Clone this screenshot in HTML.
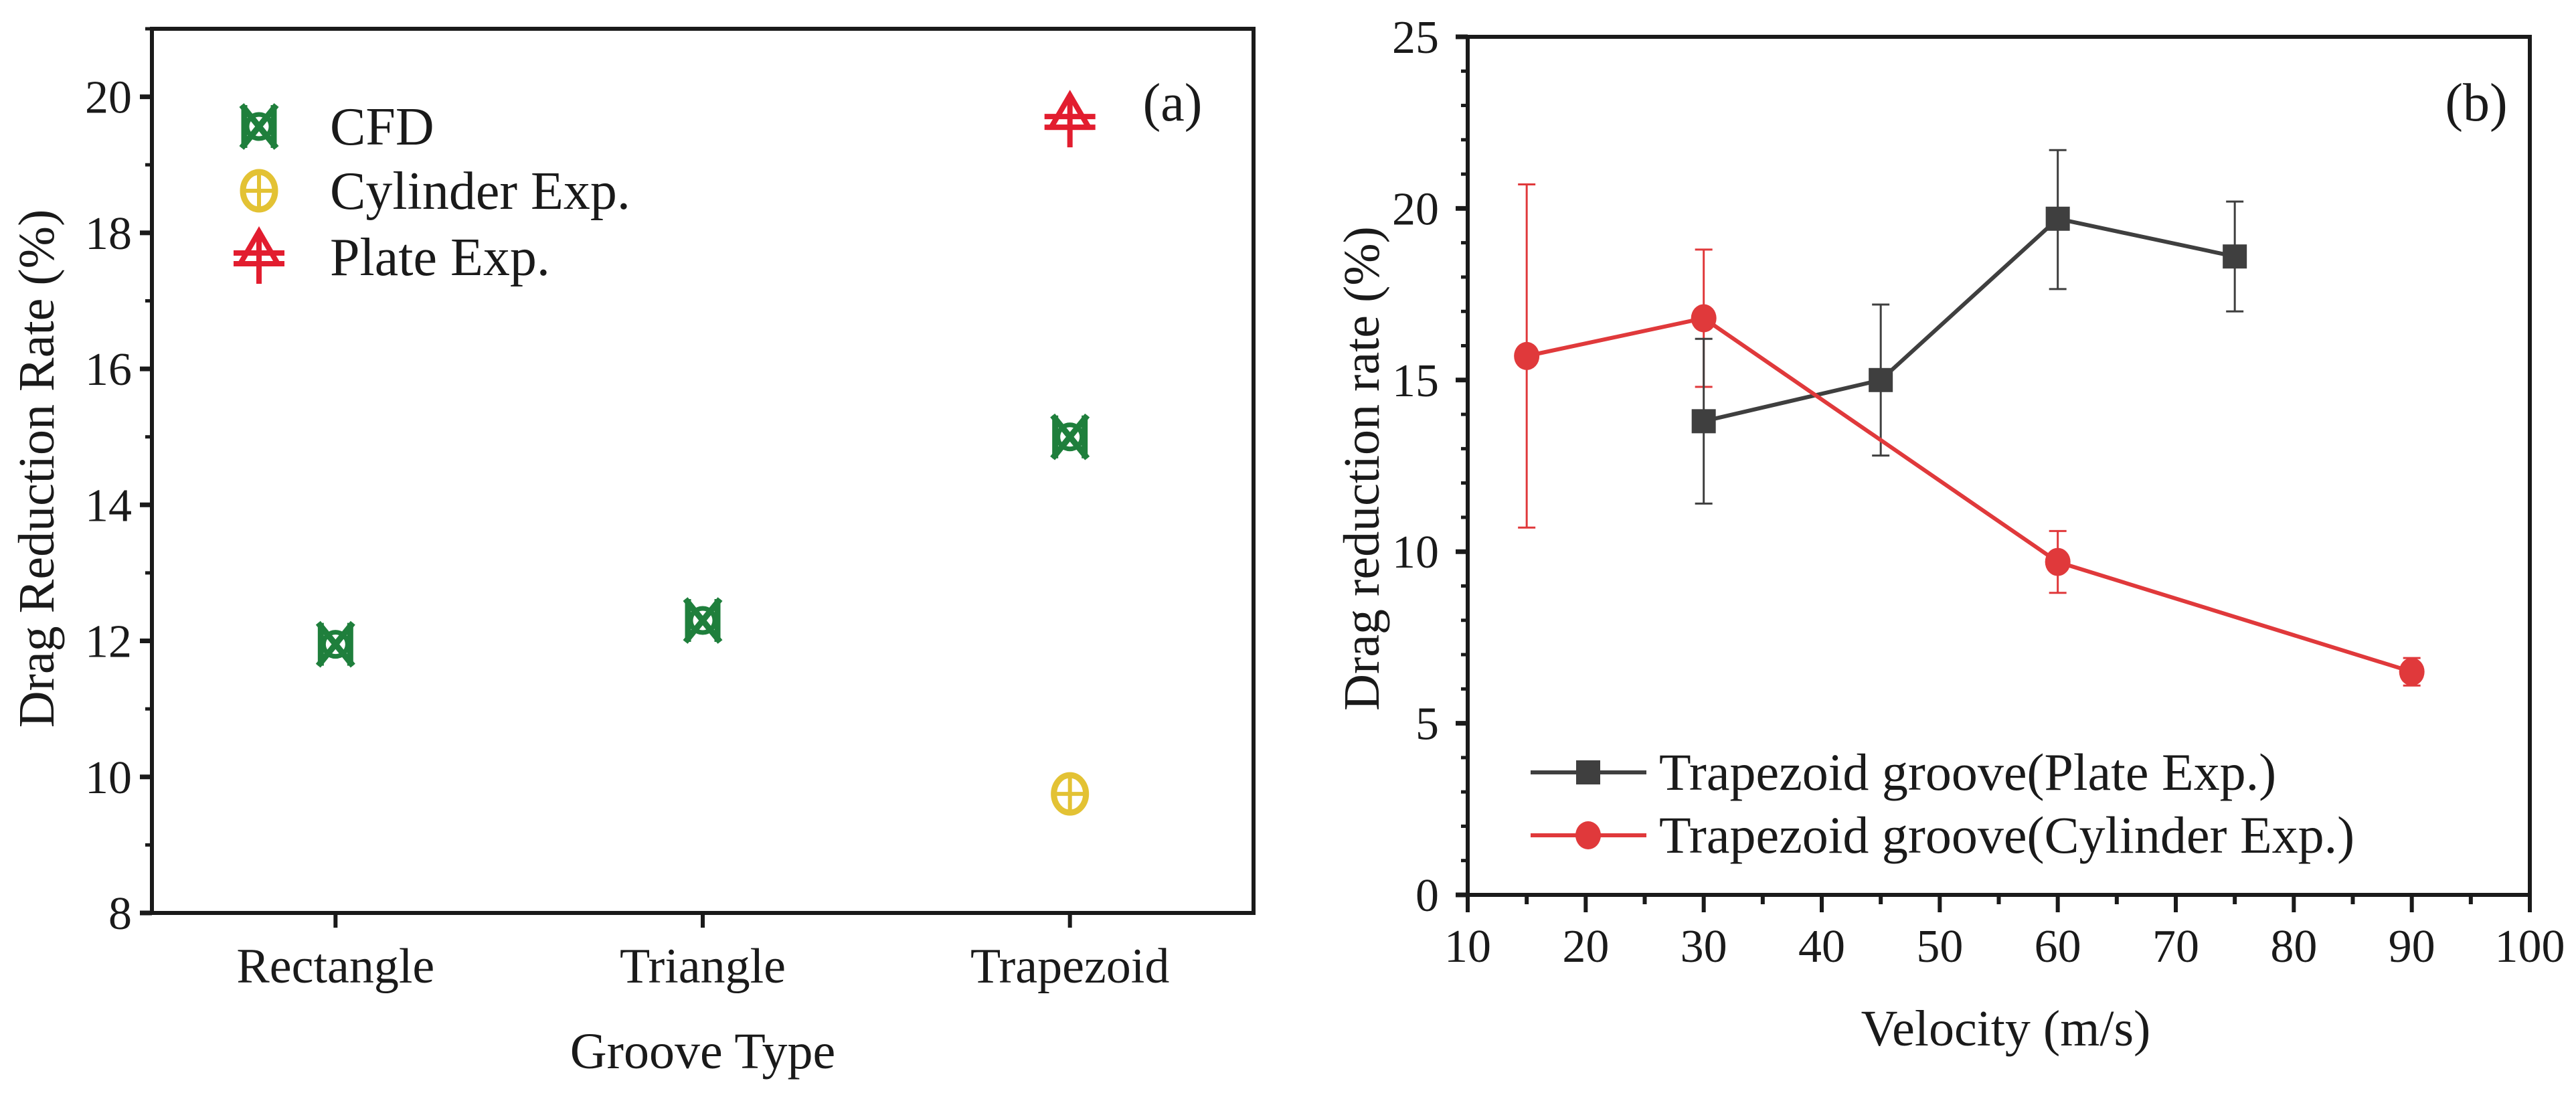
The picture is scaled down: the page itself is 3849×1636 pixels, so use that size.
<!DOCTYPE html>
<html><head><meta charset="utf-8"><style>
html,body{margin:0;padding:0;background:#fff;}
svg{display:block;font-family:"Liberation Serif",serif;}
</style></head><body>
<svg id="fig" width="3849" height="1636" viewBox="0 0 3849 1636" xmlns="http://www.w3.org/2000/svg">
<g id="pa"></g>
<g id="pb"></g>
</svg>
<script>
// Panel (a) data
const catLabels = ["Rectangle","Triangle","Trapezoid"];
const cfdVals = [11.95, 12.3, 15.0];
const cylVals = [null, null, 9.75];
const plateVals = [null, null, 19.65];
const aYTicks = [8,10,12,14,16,18,20];
// Panel (b) data
const plateX = [30,45,60,75];
const plateY = [13.8,15.0,19.7,18.6];
const plateLo = [11.4,12.8,17.65,17.0];
const plateHi = [16.2,17.2,21.7,20.2];
const cylX = [15,30,60,90];
const cylY = [15.7,16.8,9.7,6.5];
const cylLo = [10.7,14.8,8.8,6.1];
const cylHi = [20.7,18.8,10.6,6.9];
const bXTicks = [10,20,30,40,50,60,70,80,90,100];
const bYTicks = [0,5,10,15,20,25];

const NS="http://www.w3.org/2000/svg";
function mk(parent,tag,attrs,text){const e=document.createElementNS(NS,tag);for(const k in attrs)e.setAttribute(k,attrs[k]);if(text!==undefined)e.textContent=text;parent.appendChild(e);return e;}

const GREEN="#1f7f3c", YEL="#e3c234", RED="#e21d2f", GRAY="#3f3f3f", CRED="#e0393b";

// ---------- Panel A ----------
const pa=document.getElementById('pa');
const aL=227,aR=1873,aT=43,aB=1364;
const ay=v=>aB-(v-8)/(21-8)*(aB-aT);
const ax=i=>aL+(i+0.5)/3*(aR-aL);

function cfdMarker(g,cx,cy){
  const w=26,h=32,sw=9;
  mk(g,'line',{x1:cx-w,y1:cy-h,x2:cx+w,y2:cy+h,stroke:GREEN,'stroke-width':sw});
  mk(g,'line',{x1:cx+w,y1:cy-h,x2:cx-w,y2:cy+h,stroke:GREEN,'stroke-width':sw});
  mk(g,'line',{x1:cx-w+4,y1:cy-h,x2:cx-w+4,y2:cy+h,stroke:GREEN,'stroke-width':sw});
  mk(g,'line',{x1:cx+w-4,y1:cy-h,x2:cx+w-4,y2:cy+h,stroke:GREEN,'stroke-width':sw});
  mk(g,'circle',{cx:cx,cy:cy,r:18,fill:'none',stroke:GREEN,'stroke-width':7});
}
function cylMarker(g,cx,cy){
  mk(g,'ellipse',{cx:cx,cy:cy,rx:24,ry:28,fill:'none',stroke:YEL,'stroke-width':9});
  mk(g,'line',{x1:cx-24,y1:cy,x2:cx+24,y2:cy,stroke:YEL,'stroke-width':6});
  mk(g,'line',{x1:cx,y1:cy-28,x2:cx,y2:cy+28,stroke:YEL,'stroke-width':6});
}
function plateMarker(g,cx,cy){
  mk(g,'polygon',{points:`${cx},${cy-38} ${cx-28},${cy+10} ${cx+28},${cy+10}`,fill:'none',stroke:RED,'stroke-width':8,'stroke-linejoin':'miter'});
  mk(g,'line',{x1:cx-38,y1:cy-6,x2:cx+38,y2:cy-6,stroke:RED,'stroke-width':8});
  mk(g,'line',{x1:cx-38,y1:cy+10,x2:cx+38,y2:cy+10,stroke:RED,'stroke-width':8});
  mk(g,'line',{x1:cx,y1:cy-30,x2:cx,y2:cy+40,stroke:RED,'stroke-width':8});
}

// frame
let fr=mk(pa,'rect',{x:aL,y:aT,width:aR-aL,height:aB-aT,fill:'none',stroke:'#1a1a1a','stroke-width':6});

for(let v=8;v<=21;v++){
  const major=aYTicks.includes(v);
  mk(pa,'line',{x1:aL-(major?18:10),y1:ay(v),x2:aL,y2:ay(v),stroke:'#1a1a1a','stroke-width':major?7:5});
}
aYTicks.forEach(v=>{
  const t=mk(pa,'text',{x:197,y:ay(v)+24,'font-size':70,'text-anchor':'end',fill:'#1a1a1a'},String(v));
  
});
catLabels.forEach((c,i)=>{
  mk(pa,'line',{x1:ax(i),y1:aB,x2:ax(i),y2:aB+22,stroke:'#1a1a1a','stroke-width':6});
  const t=mk(pa,'text',{x:ax(i),y:1468,'font-size':74,'text-anchor':'middle',fill:'#1a1a1a'},c);
  
});
let t=mk(pa,'text',{x:1050,y:1596,'font-size':76,'text-anchor':'middle',fill:'#1a1a1a'},'Groove Type');

t=mk(pa,'text',{x:0,y:0,'font-size':76,'text-anchor':'middle',fill:'#1a1a1a',transform:'translate(80,700) rotate(-90)'},'Drag Reduction Rate (%)');

t=mk(pa,'text',{x:1752,y:180,'font-size':80,'text-anchor':'middle',fill:'#1a1a1a'},'(a)');


cfdVals.forEach((v,i)=>{if(v===null)return;const g=mk(pa,'g',{});
cfdMarker(g,ax(i),ay(v));});
cylVals.forEach((v,i)=>{if(v===null)return;const g=mk(pa,'g',{});
cylMarker(g,ax(i),ay(v));});
plateVals.forEach((v,i)=>{if(v===null)return;const g=mk(pa,'g',{});
plateMarker(g,ax(i),ay(v));});

// legend a
const legA=[["CFD",cfdMarker,189],["Cylinder Exp.",cylMarker,285],["Plate Exp.",plateMarker,384]];
legA.forEach(([lab,fn,yy])=>{const g=mk(pa,'g',{});

fn(g,387,yy);mk(g,'text',{x:493,y:yy+27,'font-size':80,fill:'#1a1a1a'},lab);});

// ---------- Panel B ----------
const pb=document.getElementById('pb');
const bL=2193,bR=3780,bT=55,bB=1337;
const bx=v=>bL+(v-10)/90*(bR-bL);
const by=v=>bB-v/25*(bB-bT);
fr=mk(pb,'rect',{x:bL,y:bT,width:bR-bL,height:bB-bT,fill:'none',stroke:'#1a1a1a','stroke-width':6});

for(let v=0;v<=25;v++){const major=v%5===0;
  mk(pb,'line',{x1:bL-(major?18:10),y1:by(v),x2:bL,y2:by(v),stroke:'#1a1a1a','stroke-width':major?7:5});}
for(let v=10;v<=100;v+=5){const major=v%10===0;
  mk(pb,'line',{x1:bx(v),y1:bB,x2:bx(v),y2:bB+(major?26:14),stroke:'#1a1a1a','stroke-width':6});}
bYTicks.forEach(v=>{const tt=mk(pb,'text',{x:2150,y:by(v)+24,'font-size':70,'text-anchor':'end',fill:'#1a1a1a'},String(v));
});
bXTicks.forEach(v=>{const tt=mk(pb,'text',{x:bx(v),y:1437,'font-size':70,'text-anchor':'middle',fill:'#1a1a1a'},String(v));
});
t=mk(pb,'text',{x:2997,y:1562,'font-size':76,'text-anchor':'middle',fill:'#1a1a1a'},'Velocity (m/s)');

t=mk(pb,'text',{x:0,y:0,'font-size':76,'text-anchor':'middle',fill:'#1a1a1a',transform:'translate(2060,700) rotate(-90)'},'Drag reduction rate (%)');

t=mk(pb,'text',{x:3700,y:180,'font-size':80,'text-anchor':'middle',fill:'#1a1a1a'},'(b)');


function errbars(xs,lo,hi,col,name){xs.forEach((x,i)=>{const g=mk(pb,'g',{});

mk(g,'line',{x1:bx(x),y1:by(lo[i]),x2:bx(x),y2:by(hi[i]),stroke:col,'stroke-width':3});
mk(g,'line',{x1:bx(x)-13,y1:by(lo[i]),x2:bx(x)+13,y2:by(lo[i]),stroke:col,'stroke-width':3});
mk(g,'line',{x1:bx(x)-13,y1:by(hi[i]),x2:bx(x)+13,y2:by(hi[i]),stroke:col,'stroke-width':3});});}
errbars(cylX,cylLo,cylHi,CRED,'cylinder-error-bar');
errbars(plateX,plateLo,plateHi,GRAY,'plate-error-bar');
let ln=mk(pb,'polyline',{points:plateX.map((x,i)=>bx(x)+','+by(plateY[i])).join(' '),fill:'none',stroke:GRAY,'stroke-width':6});

ln=mk(pb,'polyline',{points:cylX.map((x,i)=>bx(x)+','+by(cylY[i])).join(' '),fill:'none',stroke:CRED,'stroke-width':6});

plateX.forEach((x,i)=>{const r=mk(pb,'rect',{x:bx(x)-18,y:by(plateY[i])-18,width:36,height:36,fill:GRAY});
});
cylX.forEach((x,i)=>{const c=mk(pb,'ellipse',{cx:bx(x),cy:by(cylY[i]),rx:19,ry:21,fill:CRED});
});

// legend b
let g=mk(pb,'g',{});
mk(g,'line',{x1:2287,y1:1154,x2:2460,y2:1154,stroke:GRAY,'stroke-width':6});
mk(g,'rect',{x:2355,y:1136,width:36,height:36,fill:GRAY});
mk(g,'text',{x:2479,y:1180,'font-size':78,fill:'#1a1a1a'},'Trapezoid groove(Plate Exp.)');
g=mk(pb,'g',{});
mk(g,'line',{x1:2287,y1:1248,x2:2460,y2:1248,stroke:CRED,'stroke-width':6});
mk(g,'ellipse',{cx:2373,cy:1248,rx:19,ry:21,fill:CRED});
mk(g,'text',{x:2479,y:1274,'font-size':78,fill:'#1a1a1a'},'Trapezoid groove(Cylinder Exp.)');
</script>
</body></html>
